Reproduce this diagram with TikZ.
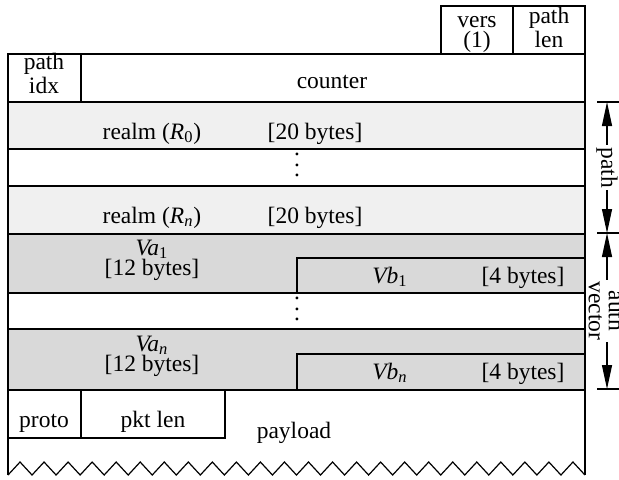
\documentclass[tikz,border=0pt]{standalone}
\usepackage{fontspec}
\setmainfont{Liberation Serif}
\usetikzlibrary{arrows.meta}

\definecolor{realmgray}{gray}{0.94}
\definecolor{authgray}{gray}{0.85}

\newcommand{\fieldsub}[2]{\textit{#1}\textsubscript{#2}}
\newcommand{\rowdots}{\vbox{\baselineskip=5.25pt \lineskiplimit=0pt \hbox{.}\hbox{.}\hbox{.}}}

\begin{document}
\begin{tikzpicture}[x=0.5pt, y=-0.5pt,
            every node/.style = {font=\fontsize{11.75}{10}\selectfont, inner sep=0pt},
            field/.style = {draw, line width=0.6pt},
            lbl/.style = {anchor=base},
            twoline/.style = {anchor=base, align=center},
            span/.style = {line width=0.6pt,
                {Triangle[length=12pt,width=5pt]}-{Triangle[length=12pt,width=5pt]}},
            spanlbl/.style = {fill=white, rotate=-90, inner sep=1pt, align=center},
            tick/.style = {line width=0.6pt}]
            \useasboundingbox (0,0) rectangle (619,479);
            % header words
            \draw[field] (441,6) rectangle (513,54);
            \draw[field] (513,6) rectangle (585,54);
            \node[twoline] (vers) at (477,47) {vers\\(1)};
            \node[twoline] (pathlen) at (549,47) {path\\len};
            \draw[field] (8,54) rectangle (585,102);
            \draw[field] (8,54) rectangle (81,102);
            \node[twoline] (pathidx) at (44,93) {path\\idx};
            \node[lbl] (counter) at (332,88) {counter};
            % path: realms
            \draw[field, fill=realmgray] (8,102) rectangle (585,149);
            \node[lbl] (realm0) at (152,139) {realm (\fieldsub{R}{0})};
            \node[lbl] (realm0len) at (315,139) {[20 bytes]};
            \draw[field] (8,149) rectangle (585,186);
            \node (dots1) at (297,165) {\rowdots};
            \draw[field, fill=realmgray] (8,186) rectangle (585,234);
            \node[lbl] (realmn) at (152,223) {realm (\fieldsub{R}{\textit{n}})};
            \node[lbl] (realmnlen) at (315,223) {[20 bytes]};
            % auth vector
            \draw[field, fill=authgray] (8,234) rectangle (585,293);
            \draw[field, fill=authgray] (297,258) rectangle (585,293);
            \node[twoline] (va1) at (152,275) {\fieldsub{Va}{1}\\{}[12 bytes]};
            \node[lbl] (vb1) at (390,283) {\fieldsub{Vb}{1}};
            \node[lbl] (vb1len) at (523,283) {[4 bytes]};
            \draw[field] (8,293) rectangle (585,329);
            \node (dots2) at (297,309) {\rowdots};
            \draw[field, fill=authgray] (8,329) rectangle (585,390);
            \draw[field, fill=authgray] (297,354) rectangle (585,390);
            \node[twoline] (van) at (152,371) {\fieldsub{Va}{\textit{n}}\\{}[12 bytes]};
            \node[lbl] (vbn) at (390,379) {\fieldsub{Vb}{\textit{n}}};
            \node[lbl] (vbnlen) at (523,379) {[4 bytes]};
            % payload
            \draw[field] (8,390) rectangle (81,438);
            \draw[field] (81,390) rectangle (225,438);
            \node[lbl] (proto) at (44,427) {proto};
            \node[lbl] (pktlen) at (153,427) {pkt len};
            \node[lbl] (payload) at (294,438) {payload};
            \draw[field] (8,475) -- (8,390) -- (585,390) -- (585,475);
            \draw[field] (8,475)
                \foreach \t in {1,...,24} { -- ++(12.02,-13) -- ++(12.02,13) };
            % spans on the right
            \coordinate (pathtop) at (607,102);
            \coordinate (pathbot) at (607,233);
            \coordinate (authbot) at (607,389);
            \foreach \c in {pathtop, pathbot, authbot}
                \draw[tick] ([xshift=-5pt]\c) -- ([xshift=6pt]\c);
            \draw[span] (pathtop) -- node[spanlbl] (pathspan) {path} (pathbot);
            \draw[span] (pathbot) -- node[spanlbl] (authspan) {auth\\vector} (authbot);
        \end{tikzpicture}
\end{document}
